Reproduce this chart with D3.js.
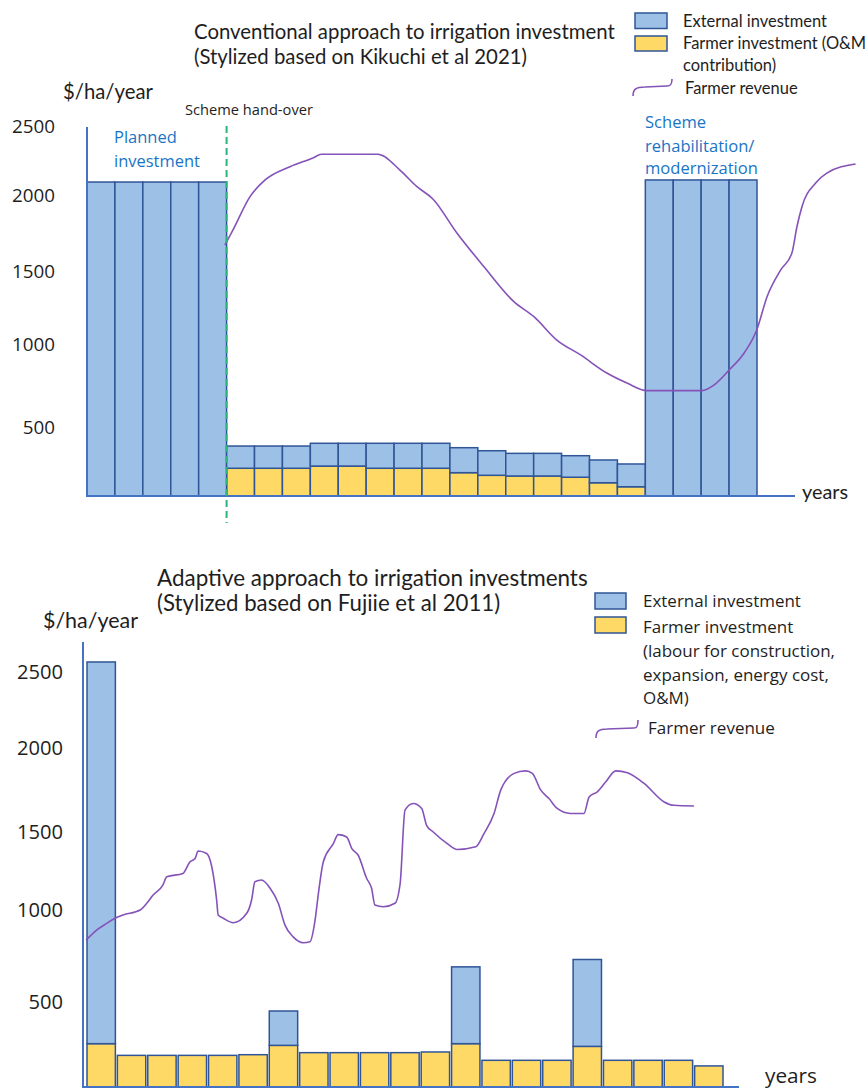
<!DOCTYPE html>
<html><head><meta charset="utf-8">
<script src="https://cdn.jsdelivr.net/npm/d3@7"></script>
<style>body{margin:0;background:#fff} svg{display:block}</style>
</head><body>
<svg id="chart" width="868" height="1089"></svg>
<script>
// ---------------- data ----------------
const tickValues = [500, 1000, 1500, 2000, 2500];
const axisStops = [0, 500, 1000, 1500, 2000, 2500];

// Conventional approach (top chart): 24 years
const topFarmer   = [0,0,0,0,0, 201,201,201,217,217,201,201,201,169,150,145,145,136,96,67, 0,0,0,0];
const topExternal = [2094,2094,2094,2094,2094, 161,161,161,165,165,181,181,181,181,178,164,164,156,165,165, 2109,2109,2109,2109];
// [year position, $/ha/year]
const topRevenue = [
  [4.94,1671],[5.23,1770],[5.84,1989],[6.38,2109],[7.27,2205],[8.09,2268],[8.4,2295],
  [10.42,2295],[11.21,2181],[11.82,2060],[12.39,1974],[13.25,1750],[14.22,1528],
  [15.29,1290],[16.01,1187],[16.83,1027],[17.68,934],[18.62,825],[19.34,765],
  [20.06,719],[22.03,719],[22.46,753],[23.0,843],[23.54,946],[23.99,1096],
  [24.36,1324],[24.85,1507],[25.25,1618],[25.43,1791],[25.61,1923],[26.1,2087],
  [26.5,2159],[27.53,2225]
];

// Adaptive approach (bottom chart): 21 years
const bottomFarmer   = [255,186,186,186,186,190,245,202,202,202,202,206,255,157,157,157,239,157,157,157,124];
const bottomExternal = [2311,0,0,0,0,0,202,0,0,0,0,0,436,0,0,0,492,0,0,0,0];
const bottomRevenue = [
  [0,836],[0.35,891],[0.68,927],[0.95,955],[1.22,973],[1.78,1000],[2.0,1043],[2.21,1096],
  [2.53,1160],[2.66,1213],[3.19,1234],[3.42,1308],[3.59,1330],[3.69,1378],[3.97,1362],
  [4.14,1277],[4.30,1064],[4.35,973],[4.52,955],[4.85,931],[5.29,982],[5.45,1064],
  [5.56,1181],[5.78,1192],[6.06,1139],[6.33,1043],[6.55,918],[6.82,854],[7.15,822],
  [7.37,827],[7.54,945],[7.65,1107],[7.81,1308],[8.14,1425],[8.30,1483],[8.58,1468],
  [8.75,1394],[8.96,1351],[9.24,1202],[9.40,1139],[9.51,1032],[9.79,1021],[10.17,1043],
  [10.34,1170],[10.50,1630],[10.77,1670],[11.05,1640],[11.21,1540],[11.43,1500],
  [11.89,1426],[12.22,1388],[12.83,1405],[13.10,1490],[13.43,1610],[13.65,1749],
  [14.09,1849],[14.47,1864],[14.69,1849],[14.97,1749],[15.24,1699],[15.51,1640],
  [15.95,1610],[16.39,1610],[16.56,1709],[16.83,1739],[17.11,1799],[17.44,1864],
  [17.82,1852],[18.37,1789],[19.03,1679],[19.35,1659],[20.01,1655]
];

// ---------------- styles ----------------
const C = {
  ext: "#9dc0e7", yel: "#ffd965", barStroke: "#2f5597",
  axis: "#4472c4", line: "#8452b8", text: "#1e1e1e", blue: "#1a74c6", green: "#28b47a"
};
const FONT_A = "Lato, 'Open Sans', sans-serif";       // Calibri-like
const FONT_B = "'Open Sans', 'Noto Sans', sans-serif"; // Segoe-like

const svg = d3.select("#chart");

function fit(sel, target) {
  const base = parseFloat(sel.attr("font-size"));
  const w = sel.node().getComputedTextLength();
  const s = base * target / w;
  sel.attr("font-size", s);
  return s;
}
function addText(g, x, y, str, font, size, color, anchor) {
  return g.append("text").attr("x", x).attr("y", y).attr("dy", "0.35em")
    .attr("font-family", font).attr("font-size", size).attr("fill", color || C.text)
    .attr("text-anchor", anchor || "start").text(str);
}

function drawChart(cfg) {
  const g = svg.append("g");
  const x = d3.scaleLinear().domain([0, cfg.n]).range(cfg.xRange);
  const y = d3.scaleLinear().domain(axisStops).range(cfg.yStops);

  const idx = d3.range(cfg.n);
  const pad = cfg.pad;
  g.selectAll(".farmer").data(idx.filter(i => cfg.farmer[i] > 0)).join("rect")
    .attr("x", i => x(i) + pad).attr("width", i => x(i + 1) - x(i) - 2 * pad)
    .attr("y", i => y(cfg.farmer[i])).attr("height", i => y(0) - y(cfg.farmer[i]))
    .attr("fill", C.yel).attr("stroke", C.barStroke).attr("stroke-width", 1.5);
  g.selectAll(".ext").data(idx.filter(i => cfg.external[i] > 0)).join("rect")
    .attr("x", i => x(i) + pad).attr("width", i => x(i + 1) - x(i) - 2 * pad)
    .attr("y", i => y(cfg.farmer[i] + cfg.external[i]))
    .attr("height", i => y(cfg.farmer[i]) - y(cfg.farmer[i] + cfg.external[i]))
    .attr("fill", C.ext).attr("stroke", C.barStroke).attr("stroke-width", 1.5);

  g.append("line").attr("x1", cfg.axisX).attr("x2", cfg.axisX)
    .attr("y1", cfg.axisTop).attr("y2", y(0) + 1).attr("stroke", C.axis).attr("stroke-width", 2);
  g.append("line").attr("x1", cfg.axisX).attr("x2", cfg.axisRight)
    .attr("y1", y(0)).attr("y2", y(0)).attr("stroke", C.axis).attr("stroke-width", 2);

  const ax = g.append("g").attr("transform", `translate(${cfg.axisX},0)`)
    .call(d3.axisLeft(y).tickValues(tickValues).tickSize(0).tickPadding(cfg.tickPad).tickFormat(d3.format("d")));
  ax.select(".domain").remove();
  ax.selectAll("text").attr("font-family", FONT_B).attr("font-size", 18).attr("fill", C.text);
  const t0 = ax.selectAll("text").filter(d => d === 2500);
  const ts = fit(t0, cfg.tickW);
  ax.selectAll("text").attr("font-size", ts);

  g.append("path").datum(cfg.revenue)
    .attr("d", d3.line().x(d => x(d[0])).y(d => y(d[1])).curve(d3.curveMonotoneX))
    .attr("fill", "none").attr("stroke", C.line).attr("stroke-width", 1.6);

  return { g, x, y };
}

// ---------------- top chart ----------------
const topChart = drawChart({
  n: 24, xRange: [87, 757], yStops: [496, 427, 344, 271, 195, 126], pad: 0,
  farmer: topFarmer, external: topExternal, revenue: topRevenue,
  axisX: 87, axisTop: 127, axisRight: 795, tickPad: 32, tickW: 43
});
topChart.g.append("line").attr("x1", topChart.x(5)).attr("x2", topChart.x(5)).attr("y1", 126).attr("y2", 523)
  .attr("stroke", C.green).attr("stroke-width", 2).attr("stroke-dasharray", "7,4");

{
  const g = topChart.g;
  const t1 = addText(g, 194, 32, "Conventional approach to irrigation investment", FONT_A, 19);
  const s = fit(t1, 421);
  const t2 = addText(g, 194, 57, "(Stylized based on Kikuchi et al 2021)", FONT_A, s);
  fit(t2, 333);
  fit(addText(g, 63, 92, "$/ha/year", FONT_A, 19), 90);
  fit(addText(g, 185, 110, "Scheme hand-over", FONT_B, 13), 128);
  const p2 = addText(g, 114, 161, "investment", FONT_B, 15, C.blue);
  const ps = fit(p2, 86);
  addText(g, 114, 137, "Planned", FONT_B, ps, C.blue);
  const m = addText(g, 645, 168.5, "modernization", FONT_B, 15, C.blue);
  const ms = fit(m, 113);
  addText(g, 645, 122, "Scheme", FONT_B, ms, C.blue);
  addText(g, 645, 146.5, "rehabilitation/", FONT_B, ms, C.blue);
  fit(addText(g, 802, 492, "years", FONT_A, 19), 46);
  g.append("rect").attr("x", 635).attr("y", 13).attr("width", 32).attr("height", 15.5)
    .attr("fill", C.ext).attr("stroke", C.barStroke).attr("stroke-width", 1.5);
  g.append("rect").attr("x", 635).attr("y", 36).attr("width", 32).attr("height", 15)
    .attr("fill", C.yel).attr("stroke", C.barStroke).attr("stroke-width", 1.5);
  const l1 = addText(g, 683, 21.5, "External investment", FONT_A, 16);
  const ls = fit(l1, 144);
  addText(g, 683, 43.5, "Farmer investment (O&M", FONT_A, ls);
  addText(g, 683, 65.5, "contribution)", FONT_A, ls);
  addText(g, 685, 88, "Farmer revenue", FONT_A, ls);
  g.append("path").attr("d", "M633,96 C633,89 636,87 645,87 L667,86 C671,86 672,84 672,79")
    .attr("fill", "none").attr("stroke", C.line).attr("stroke-width", 1.6);
}

// ---------------- bottom chart ----------------
const bottomChart = drawChart({
  n: 21, xRange: [86, 724], yStops: [1087, 1002, 910, 832, 748, 672], pad: 1,
  farmer: bottomFarmer, external: bottomExternal, revenue: bottomRevenue,
  axisX: 83, axisTop: 642, axisRight: 739, tickPad: 20, tickW: 46
});
{
  const g = bottomChart.g;
  const t1 = addText(g, 157, 578, "Adaptive approach to irrigation investments", FONT_A, 19);
  const s = fit(t1, 431);
  const t2 = addText(g, 157, 603, "(Stylized based on Fujiie et al 2011)", FONT_A, s);
  fit(t2, 343);
  fit(addText(g, 43, 620, "$/ha/year", FONT_A, 19), 95);
  fit(addText(g, 765, 1076, "years", FONT_B, 18), 52);
  g.append("rect").attr("x", 595).attr("y", 593).attr("width", 31).attr("height", 16)
    .attr("fill", C.ext).attr("stroke", C.barStroke).attr("stroke-width", 1.5);
  g.append("rect").attr("x", 595).attr("y", 617).attr("width", 31).attr("height", 16)
    .attr("fill", C.yel).attr("stroke", C.barStroke).attr("stroke-width", 1.5);
  const l1 = addText(g, 643, 601, "External investment", FONT_B, 15);
  const ls = fit(l1, 158);
  addText(g, 643, 627, "Farmer investment", FONT_B, ls);
  addText(g, 643, 651, "(labour for construction,", FONT_B, ls);
  addText(g, 643, 675, "expansion, energy cost,", FONT_B, ls);
  addText(g, 643, 698.5, "O&M)", FONT_B, ls);
  const fr = addText(g, 648, 728.5, "Farmer revenue", FONT_B, 14);
  fit(fr, 127);
  g.append("path").attr("d", "M596,738 C596,731 599,729 607,729 L634,728 C637,728 638,726 638,720")
    .attr("fill", "none").attr("stroke", C.line).attr("stroke-width", 1.6);
}
</script>
</body></html>
